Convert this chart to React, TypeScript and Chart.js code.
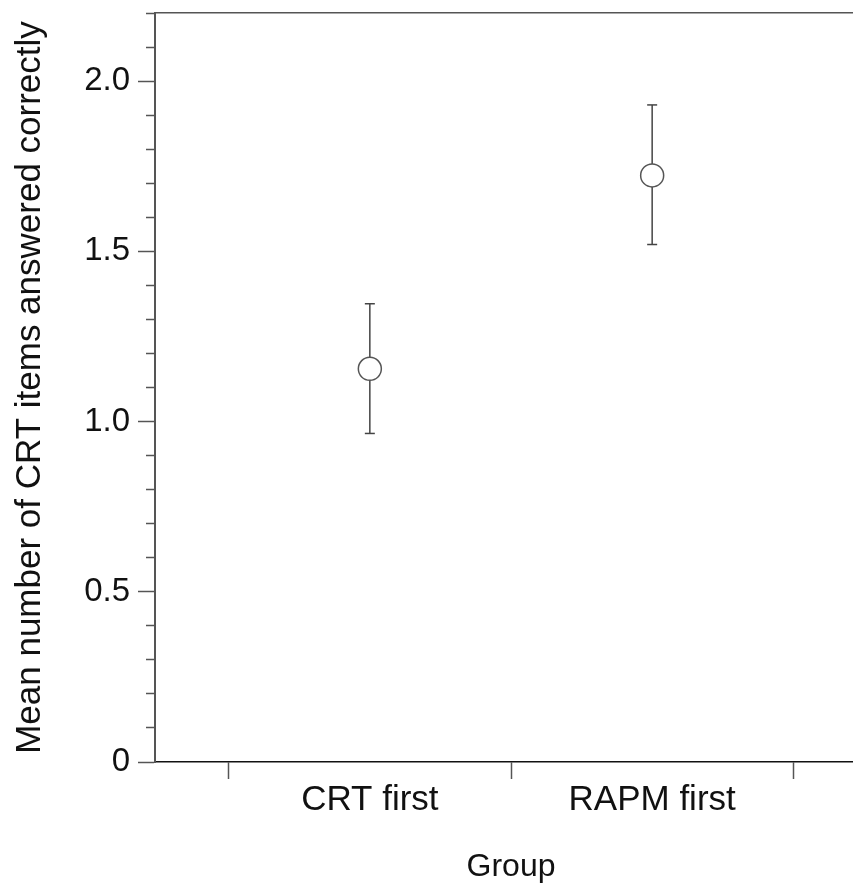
import { useEffect, useRef } from "react";
import { Chart, registerables } from "chart.js";

Chart.register(...registerables);

// ---- data ----
const groups = ["CRT first", "RAPM first"];
const groupPositions = [1, 2];
const means = [1.155, 1.723];
const lowerCI = [0.965, 1.52];
const upperCI = [1.346, 1.93];
const xBoundaryTicks = [0.5, 1.5, 2.5];
const yMajorTicks = [0, 0.5, 1.0, 1.5, 2.0];

const FONT = "'Liberation Sans', Arial, sans-serif";

function isMajor(v: number) {
  return yMajorTicks.some((m) => Math.abs(m - v) < 1e-6);
}

export default function App() {
  const ref = useRef<HTMLCanvasElement | null>(null);

  useEffect(() => {
    if (!ref.current) return;
    const ciSets = groups.map((g, i) => ({
      label: g + " 95% CI",
      data: [
        { x: groupPositions[i], y: lowerCI[i] },
        { x: groupPositions[i], y: upperCI[i] },
      ],
      showLine: true,
      borderColor: "#444",
      borderWidth: 1.5,
      pointStyle: "line" as const,
      pointRadius: 5,
      pointHoverRadius: 5,
      pointBorderColor: "#444",
      pointBorderWidth: 1.5,
      order: 1,
    }));
    const meanSet = {
      label: "Mean",
      data: groupPositions.map((x, i) => ({ x, y: means[i] })),
      showLine: false,
      pointStyle: "circle" as const,
      pointRadius: 11.5,
      pointHoverRadius: 11.5,
      pointBackgroundColor: "#fff",
      pointBorderColor: "#555",
      pointBorderWidth: 1.5,
      order: 0,
    };

    const chart = new Chart(ref.current, {
      type: "scatter",
      data: { datasets: [...ciSets, meanSet] as any },
      options: {
        animation: false,
        responsive: false,
        devicePixelRatio: 1,
        layout: { padding: { left: 0, right: 11, top: 0, bottom: 0 } },
        plugins: { legend: { display: false }, tooltip: { enabled: false } },
        scales: {
          x: {
            type: "linear",
            position: "bottom",
            min: 0.239,
            max: 2.761,
            afterBuildTicks: (s: any) => {
              s.ticks = [...xBoundaryTicks, ...groupPositions]
                .sort((a, b) => a - b)
                .map((v) => ({ value: v }));
            },
            afterFit: (s: any) => {
              s.height = 124;
              s.paddingLeft = 0;
              s.paddingRight = 0;
            },
            ticks: {
              autoSkip: false,
              maxRotation: 0,
              padding: 0,
              color: "#111",
              font: { family: FONT, size: 35 },
              callback: (v: any) => {
                const idx = groupPositions.indexOf(Number(v));
                return idx >= 0 ? groups[idx] : "";
              },
            },
            grid: {
              drawOnChartArea: false,
              tickLength: 17,
              tickWidth: 1.5,
              tickColor: (ctx: any) =>
                groupPositions.includes(ctx.tick?.value) ? "rgba(0,0,0,0)" : "#555",
            },
            border: { color: "#111", width: 1.5 },
            title: {
              display: true,
              text: "Group",
              color: "#111",
              font: { family: FONT, size: 32 },
              padding: { top: 0, bottom: 0 },
            },
          },
          x2: {
            type: "linear",
            position: "top",
            min: 0.239,
            max: 2.761,
            afterFit: (s: any) => {
              s.height = 12;
              s.paddingLeft = 0;
              s.paddingRight = 0;
            },
            ticks: { display: false },
            grid: { drawOnChartArea: false, drawTicks: false },
            border: { color: "#555", width: 1.5 },
          },
          y: {
            type: "linear",
            min: 0,
            max: 2.2,
            afterFit: (s: any) => {
              s.width = 155;
              s.paddingTop = 0;
              s.paddingBottom = 0;
            },
            ticks: {
              stepSize: 0.1,
              autoSkip: false,
              padding: 8,
              color: "#111",
              font: { family: FONT, size: 33 },
              callback: (v: any) => {
                const n = Number(v);
                if (!isMajor(n)) return "";
                return Math.abs(n) < 1e-9 ? "0" : n.toFixed(1);
              },
            },
            grid: {
              drawOnChartArea: false,
              tickLength: 17,
              tickWidth: 1.5,
              tickColor: "#555",
              tickBorderDash: (ctx: any) =>
                isMajor(ctx.tick?.value ?? 0) ? [] : [0, 8, 9, 0],
            },
            border: { color: "#555", width: 2 },
            title: {
              display: true,
              text: "Mean number of CRT items answered correctly",
              color: "#111",
              font: { family: FONT, size: 35 },
              padding: { top: 9, bottom: 0 },
            },
          },
        },
      },
    });
    return () => chart.destroy();
  }, []);

  return (
    <div
      style={{
        position: "fixed",
        left: 0,
        top: 0,
        width: 853,
        height: 886,
        overflow: "hidden",
        background: "#fff",
      }}
    >
      <canvas ref={ref} width={880} height={886} style={{ display: "block" }} />
    </div>
  );
}
